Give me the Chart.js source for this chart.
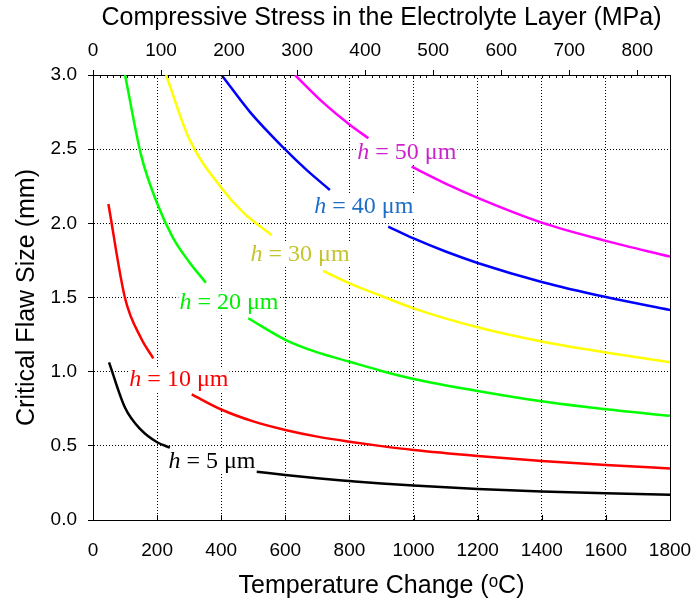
<!DOCTYPE html>
<html>
<head>
<meta charset="utf-8">
<script src="https://cdn.jsdelivr.net/npm/chart.js@4.4.1/dist/chart.umd.min.js"></script>
<style>
  html, body { margin: 0; padding: 0; background: #fff; }
  #wrap { width: 696px; height: 604px; }
</style>
</head>
<body>
<div id="wrap"><canvas id="flawChart" width="696" height="604"></canvas></div>
<script>
// Critical flaw size (mm) vs temperature change (oC) for each electrolyte thickness.
// A null value breaks the curve where its label sits.
const thickness = [5, 10, 20, 30, 40, 50];

const tempH5 = [50, 100, 150, 200, 240, 375, 510, 600, 700, 800, 900, 1000, 1200, 1400, 1600, 1800];
const flawH5 = [1.063, 0.757, 0.607, 0.524, 0.488, null, 0.326, 0.303, 0.281, 0.263, 0.246, 0.232, 0.209, 0.192, 0.180, 0.171];

const tempH10 = [48, 100, 150, 188, 250, 308, 400, 500, 600, 700, 800, 900, 1000, 1200, 1400, 1600, 1800];
const flawH10 = [2.13, 1.495, 1.225, 1.09, null, 0.847, 0.745, 0.665, 0.607, 0.562, 0.528, 0.498, 0.472, 0.432, 0.398, 0.371, 0.348];

const tempH20 = [100, 150, 200, 250, 300, 352, 420, 484, 600, 700, 800, 900, 1000, 1200, 1400, 1600, 1800];
const flawH20 = [3.0, 2.46, 2.135, 1.90, 1.74, 1.60, null, 1.36, 1.215, 1.13, 1.067, 1.005, 0.951, 0.870, 0.800, 0.746, 0.703];

const tempH30 = [228, 300, 400, 470, 557, 640, 718, 800, 900, 1000, 1200, 1400, 1600, 1800];
const flawH30 = [3.0, 2.57, 2.24, 2.07, 1.92, null, 1.68, 1.595, 1.51, 1.427, 1.299, 1.203, 1.129, 1.063];

const tempH40 = [401, 490, 594, 666, 739, 830, 921, 1000, 1100, 1200, 1400, 1600, 1800];
const flawH40 = [3.0, 2.75, 2.51, 2.36, 2.225, null, 1.978, 1.898, 1.81, 1.733, 1.605, 1.503, 1.416];

const tempH50 = [630, 720, 802, 859, 925, 994, 1100, 1200, 1400, 1600, 1800];
const flawH50 = [3.0, 2.81, 2.663, 2.574, null, 2.382, 2.268, 2.172, 2.005, 1.882, 1.776];

const tempSeries = [tempH5, tempH10, tempH20, tempH30, tempH40, tempH50];
const flawSeries = [flawH5, flawH10, flawH20, flawH30, flawH40, flawH50];

// axis ranges and ticks
const tempTicks = [0, 200, 400, 600, 800, 1000, 1200, 1400, 1600, 1800];
const flawTicks = [0.0, 0.5, 1.0, 1.5, 2.0, 2.5, 3.0];
const stressTicks = [0, 100, 200, 300, 400, 500, 600, 700, 800];
const stressMax = 848;

// colours
const lineColors = ['#000000', '#ff0000', '#00ff00', '#ffff00', '#0000ff', '#ff00ff'];
const labelColors = ['#000000', '#ff0000', '#00ee00', '#c4c42c', '#1e6ec8', '#cc22cc'];

// where each "h = .. µm" label is centred (temperature, flaw size)
const labelTemp = [371, 268, 424, 646, 845, 979];
const labelFlaw = [0.391, 0.944, 1.463, 1.787, 2.11, 2.475];

const sansFont = 'Liberation Sans, Arial, sans-serif';
const serifFont = 'Liberation Serif, Times New Roman, serif';

const datasets = thickness.map((h, i) => ({
  label: 'h = ' + h + ' µm',
  data: tempSeries[i].map((t, j) => ({ x: t, y: flawSeries[i][j] })),
  borderColor: lineColors[i],
  borderWidth: 2.5,
  pointRadius: 0,
  fill: false,
  spanGaps: false,
  cubicInterpolationMode: 'monotone',
  xAxisID: 'x',
  yAxisID: 'y'
}));

// inward ticks, right frame and the curve labels
const decorations = {
  id: 'decorations',
  afterDatasetsDraw(chart) {
    const { ctx, chartArea: area, scales } = chart;
    ctx.save();
    ctx.strokeStyle = '#000';
    ctx.lineWidth = 1;
    ctx.beginPath();
    ctx.moveTo(Math.round(area.right) + 0.5, area.top);
    ctx.lineTo(Math.round(area.right) + 0.5, area.bottom);
    tempTicks.forEach(t => {
      const px = Math.round(scales.x.getPixelForValue(t)) + 0.5;
      ctx.moveTo(px, area.bottom);
      ctx.lineTo(px, area.bottom - 5);
    });
    for (let s = 10; s < stressMax; s += 10) {
      if (s % 100 === 0) continue;
      const px = Math.round(scales.x2.getPixelForValue(s)) + 0.5;
      ctx.moveTo(px, area.top);
      ctx.lineTo(px, area.top + 3);
    }
    ctx.stroke();

    thickness.forEach((h, i) => {
      const cx = scales.x.getPixelForValue(labelTemp[i]);
      const cy = scales.y.getPixelForValue(labelFlaw[i]);
      const italic = 'italic 24px ' + serifFont;
      const upright = '24px ' + serifFont;
      const rest = ' = ' + h + ' \u03bcm';
      ctx.font = italic;
      const wH = ctx.measureText('h').width;
      ctx.font = upright;
      const wRest = ctx.measureText(rest).width;
      const left = cx - (wH + wRest) / 2;
      ctx.fillStyle = '#fff';
      ctx.fillRect(left - 1, cy - 12, wH + wRest + 2, 24);
      ctx.fillStyle = labelColors[i];
      ctx.textBaseline = 'middle';
      ctx.textAlign = 'left';
      ctx.font = italic;
      ctx.fillText('h', left, cy);
      ctx.font = upright;
      ctx.fillText(rest, left + wH, cy);
    });
    ctx.restore();
  }
};

new Chart(document.getElementById('flawChart').getContext('2d'), {
  type: 'line',
  data: { datasets },
  options: {
    responsive: false,
    animation: false,
    layout: { padding: { left: 0, right: 26, top: 0, bottom: 0 } },
    plugins: { legend: { display: false }, tooltip: { enabled: false } },
    scales: {
      x: {
        type: 'linear',
        position: 'bottom',
        min: 0,
        max: 1800,
        afterBuildTicks: s => { s.ticks = tempTicks.map(v => ({ value: v })); },
        afterFit: s => { s.height = 84; },
        ticks: {
          color: '#000',
          padding: 0,
          maxRotation: 0,
          font: { family: sansFont, size: 19 },
          callback: v => String(v)
        },
        // outward tick space is kept but left blank; the real ticks point inward
        grid: { color: '#000', lineWidth: 1, drawTicks: true, tickLength: 19, tickColor: 'rgba(0,0,0,0)' },
        border: { color: '#000', width: 1, dash: [1, 2] },
        title: {
          display: true,
          text: 'Temperature Change (\u1d52C)',
          color: '#000',
          font: { family: sansFont, size: 25 },
          padding: { top: 0, bottom: 3 }
        }
      },
      x2: {
        type: 'linear',
        position: 'top',
        min: 0,
        max: stressMax,
        afterBuildTicks: s => { s.ticks = stressTicks.map(v => ({ value: v })); },
        afterFit: s => { s.height = 75; },
        ticks: {
          color: '#000',
          padding: 8,
          maxRotation: 0,
          font: { family: sansFont, size: 19 },
          callback: v => String(v)
        },
        grid: { drawOnChartArea: false, drawTicks: true, tickLength: 5, color: '#000' },
        border: { color: '#000', width: 1 },
        title: {
          display: true,
          text: 'Compressive Stress in the Electrolyte Layer (MPa)',
          color: '#000',
          font: { family: sansFont, size: 25 },
          padding: { top: 3, bottom: 0 }
        }
      },
      y: {
        type: 'linear',
        position: 'left',
        min: 0,
        max: 3,
        afterBuildTicks: s => { s.ticks = flawTicks.map(v => ({ value: v })); },
        afterFit: s => { s.width = 93; },
        ticks: {
          color: '#000',
          padding: 11,
          font: { family: sansFont, size: 19 },
          callback: v => Number(v).toFixed(1)
        },
        grid: { color: '#000', lineWidth: 1, drawTicks: true, tickLength: 5, tickColor: '#000' },
        border: { color: '#000', width: 1, dash: [1, 2] },
        title: {
          display: true,
          text: 'Critical Flaw Size (mm)',
          color: '#000',
          font: { family: sansFont, size: 25 },
          padding: { top: 12, bottom: 0 }
        }
      }
    }
  },
  plugins: [decorations]
});
</script>
</body>
</html>
